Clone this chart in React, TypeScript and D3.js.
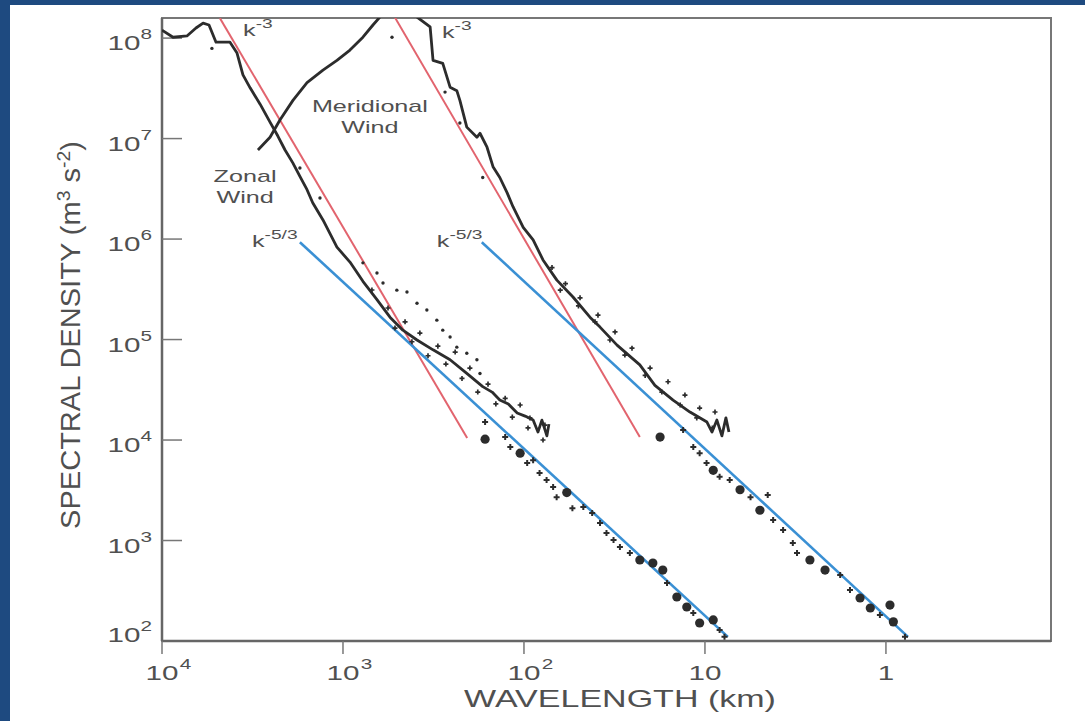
import React from "react";
import * as d3 from "d3";

const W = 1085;
const H = 721;

// [wavelength km, spectral density m^3 s^-2]
const zonalWind: [number, number][] = [
  [10000, 1.2e8], [8690, 1.02e8], [7280, 1.05e8], [6490, 1.26e8], [5930, 1.41e8],
  [5500, 1.35e8], [5030, 9.1e7], [4210, 9.1e7], [3850, 7.1e7], [3570, 4.3e7],
  [3260, 3.2e7], [2870, 2.2e7], [2530, 1.46e7], [2290, 1.06e7], [2090, 7.7e6],
  [1890, 5.7e6], [1730, 4.2e6], [1580, 3.1e6], [1470, 2.3e6], [1290, 1.55e6],
  [1080, 8.3e5], [915, 5.9e5], [776, 3.8e5], [649, 2.5e5], [550, 1.67e5],
  [467, 1.24e5], [390, 9.9e4], [318, 7.9e4], [256, 6.3e4], [207, 4.6e4],
  [169, 3.4e4], [150, 3.0e4], [136, 2.5e4], [122, 2.28e4], [109, 1.86e4],
  [98.6, 1.73e4], [89, 1.58e4], [83.7, 1.2e4], [79.6, 1.58e4], [74.7, 1.1e4],
  [72.8, 1.44e4],
];

// large-scale meridional branch (leaves the top of the frame)
const meridionalUpper: [number, number][] = [
  [2950, 7.7e6], [2530, 1.03e7], [2230, 1.53e7], [1890, 2.4e7], [1580, 3.6e7],
  [1290, 4.8e7], [1080, 6.0e7], [915, 7.6e7], [776, 1.02e8], [683, 1.35e8],
  [625, 1.62e8],
];

const meridionalWind: [number, number][] = [
  [390, 1.62e8], [330, 1.29e8], [318, 6.0e7], [281, 5.6e7], [256, 3.25e7],
  [235, 3.0e7], [226, 2.4e7], [207, 1.3e7], [182, 1.03e7], [175, 1.13e7],
  [160, 8.2e6], [148, 5.2e6], [136, 4.1e6], [124, 2.9e6], [115, 2.1e6],
  [101, 1.31e6], [89, 9.8e5], [78.5, 6.2e5], [65.8, 3.9e5], [53.6, 2.65e5],
  [43.2, 1.67e5], [38.0, 1.33e5], [30.6, 8.8e4], [22.9, 5.6e4], [18.9, 3.5e4],
  [15.0, 2.5e4], [12.1, 1.9e4], [9.75, 1.51e4], [9.14, 1.2e4], [8.59, 1.58e4],
  [8.06, 1.1e4], [7.66, 1.66e4], [7.37, 1.2e4],
];

// scatter of the individual estimates around the mesoscale part of the spectra
const zonalScatter: [number, number][] = [
  [692, 3.11e5], [564, 2.06e5], [454, 1.5e5], [376, 1.16e5], [299, 8.6e4],
  [240, 7.5e4], [199, 5.2e4], [158, 3.6e4], [127, 2.6e4], [105, 2.23e4],
  [92.7, 1.66e4], [76.6, 1.41e4], [516, 1.3e5], [416, 9.5e4], [339, 6.9e4],
  [270, 5.7e4], [220, 4.1e4], [180, 3.0e4], [143, 2.29e4], [116, 1.69e4],
  [95, 1.32e4], [78.5, 1.0e4],
];
const meridionalScatter: [number, number][] = [
  [70, 5.2e5], [59, 3.6e5], [49, 2.6e5], [39, 1.75e5], [31.4, 1.19e5],
  [25.3, 8.2e4], [20.1, 5.2e4], [16.0, 3.8e4], [12.9, 2.8e4], [10.7, 2.08e4],
  [8.8, 1.9e4], [63, 3.1e5], [50, 2.16e5], [40.5, 1.5e5], [33.5, 9.9e4],
  [27.7, 7.0e4], [21.4, 4.4e4], [17.3, 3.0e4], [13.7, 2.23e4], [11.1, 1.66e4],
  [9.1, 1.32e4],
];

// aircraft points beyond the end of the spectra
const zonalPoints: [number, number][] = [
  [164, 1.51e4], [127, 1.07e4], [119, 8.5e3], [96, 5.9e3], [89, 6.3e3],
  [82, 4.7e3], [75, 4.0e3], [69, 3.4e3], [66, 2.7e3], [54, 2.1e3],
  [47, 2.15e3], [42, 1.88e3], [38, 1.49e3], [35, 1.19e3], [32, 1.01e3],
  [29.5, 861], [26, 751], [16.2, 377], [11.6, 190], [8.3, 129], [7.8, 110],
];
const zonalBigPoints: [number, number][] = [
  [164, 1.02e4], [105, 7.4e3], [58, 3.0e3], [22.9, 640], [19.4, 597],
  [17.1, 508], [14.3, 274], [12.6, 218], [10.7, 151], [9.0, 162],
];
const meridionalPoints: [number, number][] = [
  [13.2, 1.26e4], [11.6, 8.5e3], [10.7, 7.4e3], [9.8, 5.9e3], [8.3, 4.3e3],
  [7.3, 4.0e3], [5.6, 2.7e3], [4.5, 2.84e3], [4.2, 1.6e3], [3.7, 1.27e3],
  [3.27, 944], [3.1, 751], [1.79, 453], [1.58, 321], [1.08, 181], [0.785, 110],
];
const meridionalBigPoints: [number, number][] = [
  [17.7, 1.07e4], [9.0, 5.0e3], [6.4, 3.2e3], [4.97, 2.0e3], [2.63, 640],
  [2.17, 508], [1.39, 268], [1.22, 213], [0.95, 228], [0.91, 155],
];
// second estimate drawn as fine dots beside the curves
const fineDots: [number, number][] = [
  [5300, 7.9e7], [1730, 5.1e6], [1340, 2.56e6], [776, 5.8e5], [649, 4.6e5],
  [601, 3.65e5], [504, 3.1e5], [443, 2.97e5], [390, 2.3e5], [344, 1.97e5],
  [303, 1.56e5], [281, 1.24e5], [256, 1.06e5], [235, 8.4e4], [207, 7.3e4],
  [182, 6.3e4], [175, 4.6e4], [536, 1.02e8], [273, 2.9e7], [226, 1.43e7],
  [169, 4.1e6],
];

// reference slopes
const zonalK3: [number, number][] = [[4786, 1.58e8], [206, 1.05e4]];
const meridionalK3: [number, number][] = [[516, 1.6e8], [22.9, 1.07e4]];
const zonalK53: [number, number][] = [[1730, 9.3e5], [7.47, 110]];
const meridionalK53: [number, number][] = [[171, 9.3e5], [0.755, 110]];

const yTicks = [1e2, 1e3, 1e4, 1e5, 1e6, 1e7, 1e8];
const yTickExp = ["2", "3", "4", "5", "6", "7", "8"];
const xTicks = [1e4, 1e3, 1e2, 10, 1];
const xTickBase = ["10", "10", "10", "10", "1"];
const xTickExp = ["4", "3", "2", "", ""];

const slopeLabels = [
  { base: "k", exp: "-3", at: [3565, 1.05e8] as [number, number] },
  { base: "k", exp: "-3", at: [284, 1.0e8] as [number, number] },
  { base: "k", exp: "-5/3", at: [3185, 8.3e5] as [number, number] },
  { base: "k", exp: "-5/3", at: [303, 8.3e5] as [number, number] },
];
const curveLabels = [
  { lines: ["Meridional", "Wind"], at: [710, 1.84e7] as [number, number] },
  { lines: ["Zonal", "Wind"], at: [3475, 3.7e6] as [number, number] },
];

const TEXT = "#505050";
const INK = "#2c2c2c";
const RED = "#e2646e";
const BLUE = "#3a90d4";
const SX = 1.48;

export default function App() {
  const left = 162, right = 1051, top = 18, bottom = 641;
  const x = d3.scaleLog().domain([1e4, Math.pow(10, -0.912)]).range([left, right]);
  const y = d3.scaleLog().domain([1e2, Math.pow(10, 8.2)]).range([bottom, top]);
  const line = d3.line<[number, number]>().x((d) => x(d[0])).y((d) => y(d[1]));
  const cross = d3.symbol(d3.symbolCross, 20)() as string;
  const smallCross = d3.symbol(d3.symbolCross, 14)() as string;

  return (
    <div style={{ position: "fixed", left: 0, top: 0 }}>
      <svg width={W} height={H} style={{ display: "block" }} fontFamily="'Liberation Sans', Arial, sans-serif">
        <defs>
          <clipPath id="plot">
            <rect x={left} y={top} width={right - left} height={bottom - top} />
          </clipPath>
        </defs>
        <rect width={W} height={H} fill="#1e4a80" />
        <rect x={10} y={5} width={W - 10} height={H - 5} fill="#ffffff" />

        {/* frame */}
        <rect x={left} y={top} width={right - left} height={bottom - top} fill="none" stroke="#777" strokeWidth={2} />
        <line x1={left} x2={left} y1={top} y2={bottom} stroke="#666" strokeWidth={2.5} />
        <line x1={left} x2={right} y1={bottom} y2={bottom} stroke="#666" strokeWidth={2.5} />

        {/* y ticks */}
        {yTicks.map((t, i) => (
          <g key={"y" + t}>
            {i > 0 && <line x1={left} x2={left + 20} y1={y(t)} y2={y(t)} stroke="#777" strokeWidth={1.5} />}
            <g transform={`translate(152,${y(t) + (i === 0 ? 1 : 12)}) scale(${SX},1)`}>
              <text textAnchor="end" fontSize={20} fill={TEXT}>
                10<tspan dy={-11} fontSize={14}>{yTickExp[i]}</tspan>
              </text>
            </g>
          </g>
        ))}

        {/* x ticks */}
        {xTicks.map((t, i) => (
          <g key={"x" + t}>
            <line x1={x(t)} x2={x(t)} y1={bottom} y2={bottom + 13} stroke="#777" strokeWidth={1.5} />
            <g transform={`translate(${x(t)},680) scale(${SX},1)`}>
              <text textAnchor="middle" fontSize={20} fill={TEXT}>{xTickBase[i]}</text>
              {xTickExp[i] && (
                <text x={12} y={-11} fontSize={14} fill={TEXT}>{xTickExp[i]}</text>
              )}
            </g>
          </g>
        ))}

        <g clipPath="url(#plot)">
          {/* fitted slopes */}
          {[zonalK3, meridionalK3].map((d, i) => (
            <path key={"r" + i} d={line(d) as string} fill="none" stroke={RED} strokeWidth={2} />
          ))}
          {[zonalK53, meridionalK53].map((d, i) => (
            <path key={"b" + i} d={line(d) as string} fill="none" stroke={BLUE} strokeWidth={2.6} />
          ))}

          {/* spectra */}
          {[zonalWind, meridionalUpper, meridionalWind].map((d, i) => (
            <path key={"s" + i} d={line(d) as string} fill="none" stroke={INK} strokeWidth={2.8} strokeLinejoin="round" />
          ))}
          {[...zonalScatter, ...meridionalScatter].map((d, i) => (
            <path key={"n" + i} d={smallCross} transform={`translate(${x(d[0])},${y(d[1])})`} fill={INK} />
          ))}

          {fineDots.map((d, i) => (
            <circle key={"f" + i} cx={x(d[0])} cy={y(d[1])} r={1.7} fill={INK} />
          ))}
          {[...zonalPoints, ...meridionalPoints].map((d, i) => (
            <path key={"p" + i} d={cross} transform={`translate(${x(d[0])},${y(d[1])})`} fill={INK} />
          ))}
          {[...zonalBigPoints, ...meridionalBigPoints].map((d, i) => (
            <circle key={"c" + i} cx={x(d[0])} cy={y(d[1])} r={4.6} fill={INK} />
          ))}
        </g>

        {/* annotations */}
        {slopeLabels.map((l, i) => (
          <g key={"k" + i} transform={`translate(${x(l.at[0])},${y(l.at[1])}) scale(${SX},1)`}>
            <text fontSize={17} fill={TEXT}>
              {l.base}
              <tspan dy={-8} fontSize={13}>{l.exp}</tspan>
            </text>
          </g>
        ))}
        {curveLabels.map((l, i) => (
          <g key={"w" + i} transform={`translate(${x(l.at[0])},${y(l.at[1])}) scale(${SX},1)`}>
            {l.lines.map((s, j) => (
              <text key={s} y={j * 21} textAnchor="middle" fontSize={17} fill={TEXT}>{s}</text>
            ))}
          </g>
        ))}

        {/* axis titles */}
        <g transform={`translate(620,707) scale(${SX},1)`}>
          <text textAnchor="middle" fontSize={23} fill={TEXT}>WAVELENGTH (km)</text>
        </g>
        <g transform="translate(80,335) rotate(-90)">
          <text textAnchor="middle" fontSize={27} fill={TEXT} textLength={388} lengthAdjust="spacingAndGlyphs">
            SPECTRAL DENSITY (m<tspan dy={-10} fontSize={18}>3</tspan>
            <tspan dy={10}> s</tspan>
            <tspan dy={-10} fontSize={18}>-2</tspan>
            <tspan dy={10}>)</tspan>
          </text>
        </g>
      </svg>
    </div>
  );
}
